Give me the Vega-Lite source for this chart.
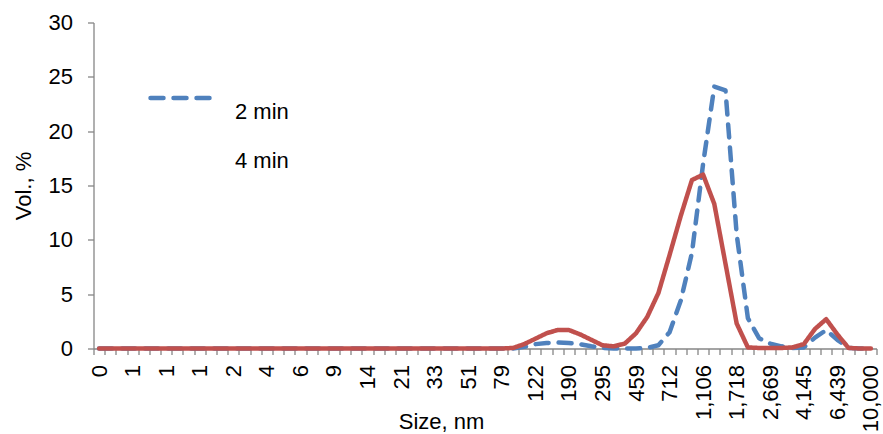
{
  "$schema": "https://vega.github.io/schema/vega-lite/v6.json",
  "width": 783,
  "height": 326,
  "autosize": {"type": "none"},
  "padding": {"left": 93.5, "top": 22.5, "right": 6.5, "bottom": 85.5},
  "background": "white",
  "data": {
    "values": [
      {"size": 0.4, "2 min": 0, "4 min": 0},
      {"size": 0.4632, "2 min": 0, "4 min": 0},
      {"size": 0.5365, "2 min": 0, "4 min": 0},
      {"size": 0.6213, "2 min": 0, "4 min": 0},
      {"size": 0.7195, "2 min": 0, "4 min": 0},
      {"size": 0.8332, "2 min": 0, "4 min": 0},
      {"size": 0.9649, "2 min": 0, "4 min": 0},
      {"size": 1.117, "2 min": 0, "4 min": 0},
      {"size": 1.294, "2 min": 0, "4 min": 0},
      {"size": 1.499, "2 min": 0, "4 min": 0},
      {"size": 1.736, "2 min": 0, "4 min": 0},
      {"size": 2.01, "2 min": 0, "4 min": 0},
      {"size": 2.328, "2 min": 0, "4 min": 0},
      {"size": 2.696, "2 min": 0, "4 min": 0},
      {"size": 3.122, "2 min": 0, "4 min": 0},
      {"size": 3.615, "2 min": 0, "4 min": 0},
      {"size": 4.187, "2 min": 0, "4 min": 0},
      {"size": 4.849, "2 min": 0, "4 min": 0},
      {"size": 5.615, "2 min": 0, "4 min": 0},
      {"size": 6.503, "2 min": 0, "4 min": 0},
      {"size": 7.531, "2 min": 0, "4 min": 0},
      {"size": 8.721, "2 min": 0, "4 min": 0},
      {"size": 10.1, "2 min": 0, "4 min": 0},
      {"size": 11.7, "2 min": 0, "4 min": 0},
      {"size": 13.54, "2 min": 0, "4 min": 0},
      {"size": 15.69, "2 min": 0, "4 min": 0},
      {"size": 18.17, "2 min": 0, "4 min": 0},
      {"size": 21.04, "2 min": 0, "4 min": 0},
      {"size": 24.36, "2 min": 0, "4 min": 0},
      {"size": 28.21, "2 min": 0, "4 min": 0},
      {"size": 32.67, "2 min": 0, "4 min": 0},
      {"size": 37.84, "2 min": 0, "4 min": 0},
      {"size": 43.82, "2 min": 0, "4 min": 0},
      {"size": 50.75, "2 min": 0, "4 min": 0},
      {"size": 58.77, "2 min": 0, "4 min": 0},
      {"size": 68.06, "2 min": 0, "4 min": 0},
      {"size": 78.82, "2 min": 0, "4 min": 0},
      {"size": 91.28, "2 min": 0, "4 min": 0.05},
      {"size": 105.7, "2 min": 0.15, "4 min": 0.4},
      {"size": 122.4, "2 min": 0.4, "4 min": 0.9},
      {"size": 141.8, "2 min": 0.5, "4 min": 1.4},
      {"size": 164.2, "2 min": 0.55, "4 min": 1.7},
      {"size": 190.1, "2 min": 0.5, "4 min": 1.7},
      {"size": 220.2, "2 min": 0.4, "4 min": 1.3},
      {"size": 255, "2 min": 0.2, "4 min": 0.8},
      {"size": 295.3, "2 min": 0.05, "4 min": 0.3},
      {"size": 342, "2 min": 0, "4 min": 0.2},
      {"size": 396.1, "2 min": 0, "4 min": 0.45},
      {"size": 458.7, "2 min": 0, "4 min": 1.4},
      {"size": 531.2, "2 min": 0.05, "4 min": 2.9},
      {"size": 615.1, "2 min": 0.3, "4 min": 5.1},
      {"size": 712.4, "2 min": 1.5, "4 min": 8.6},
      {"size": 825, "2 min": 4.4, "4 min": 12.2},
      {"size": 955.4, "2 min": 8.8, "4 min": 15.5},
      {"size": 1106, "2 min": 17, "4 min": 16},
      {"size": 1281, "2 min": 24.1, "4 min": 13.3},
      {"size": 1484, "2 min": 23.75, "4 min": 7.8},
      {"size": 1718, "2 min": 10.5, "4 min": 2.3},
      {"size": 1990, "2 min": 2.8, "4 min": 0.1},
      {"size": 2305, "2 min": 0.95, "4 min": 0.05},
      {"size": 2669, "2 min": 0.45, "4 min": 0.05},
      {"size": 3091, "2 min": 0.2, "4 min": 0.05},
      {"size": 3580, "2 min": 0.05, "4 min": 0.1},
      {"size": 4145, "2 min": 0.1, "4 min": 0.4},
      {"size": 4801, "2 min": 1.0, "4 min": 1.8},
      {"size": 5560, "2 min": 1.7, "4 min": 2.7},
      {"size": 6439, "2 min": 0.8, "4 min": 1.3},
      {"size": 7456, "2 min": 0.05, "4 min": 0.05},
      {"size": 8635, "2 min": 0, "4 min": 0},
      {"size": 10000, "2 min": 0, "4 min": 0}
    ]
  },
  "transform": [{"fold": ["2 min", "4 min"], "as": ["series", "vol"]}],
  "mark": {"type": "line", "strokeWidth": 4.5, "strokeCap": "round", "strokeJoin": "round"},
  "encoding": {
    "x": {
      "field": "size",
      "type": "ordinal",
      "scale": {"type": "band", "paddingInner": 0, "paddingOuter": 0},
      "axis": {
        "title": "Size, nm",
        "tickBand": "extent",
        "labelAngle": 270,
        "labelAlign": "right",
        "labelBaseline": "middle",
        "labelPadding": 10,
        "labelOverlap": false,
        "labelBound": false,
        "labelFlush": false,
        "labelExpr": "isValid(datum.value) && isFinite(datum.value) && round(datum.index * 69) % 3 === 0 ? format(datum.value, ',.0f') : ''",
        "titleX": 347.5,
        "titleY": 80,
        "titleBaseline": "alphabetic"
      }
    },
    "y": {
      "field": "vol",
      "type": "quantitative",
      "scale": {"domain": [0, 30], "nice": false},
      "axis": {
        "title": "Vol., %",
        "values": [0, 5, 10, 15, 20, 25, 30],
        "labelPadding": 15,
        "titleX": -63.5,
        "titleBaseline": "alphabetic"
      }
    },
    "color": {
      "field": "series",
      "type": "nominal",
      "scale": {"domain": ["2 min", "4 min"], "range": ["#4F81BD", "#C0504D"]},
      "legend": {
        "title": null,
        "encode": {
          "symbols": {"update": {"opacity": {"signal": "datum.value === '4 min' ? 0 : 1"}, "strokeCap": {"value": "round"}}},
          "labels": {"update": {"dy": {"value": 14}}}
        }
      }
    },
    "strokeDash": {
      "field": "series",
      "type": "nominal",
      "scale": {"domain": ["2 min", "4 min"], "range": [[13, 10], [1, 0]]},
      "legend": {
        "title": null,
        "encode": {
          "symbols": {"update": {"opacity": {"signal": "datum.value === '4 min' ? 0 : 1"}, "strokeCap": {"value": "round"}}},
          "labels": {"update": {"dy": {"value": 14}}}
        }
      }
    }
  },
  "config": {
    "view": {"stroke": null},
    "font": "Liberation Sans",
    "axis": {
      "grid": false,
      "domainColor": "#868686",
      "domainWidth": 1.3,
      "tickColor": "#868686",
      "tickWidth": 1.3,
      "tickSize": 6,
      "labelFont": "Liberation Sans",
      "labelFontSize": 22,
      "labelColor": "#000000",
      "titleFont": "Liberation Sans",
      "titleFontSize": 22,
      "titleFontWeight": "normal",
      "titleColor": "#000000"
    },
    "legend": {
      "orient": "none",
      "legendX": 54.5,
      "legendY": 51.5,
      "padding": 0,
      "symbolType": "stroke",
      "symbolSize": 3844,
      "symbolStrokeWidth": 4.5,
      "labelOffset": 20,
      "labelFont": "Liberation Sans",
      "labelFontSize": 22,
      "labelColor": "#000000",
      "clipHeight": 48,
      "rowPadding": 0
    }
  }
}
